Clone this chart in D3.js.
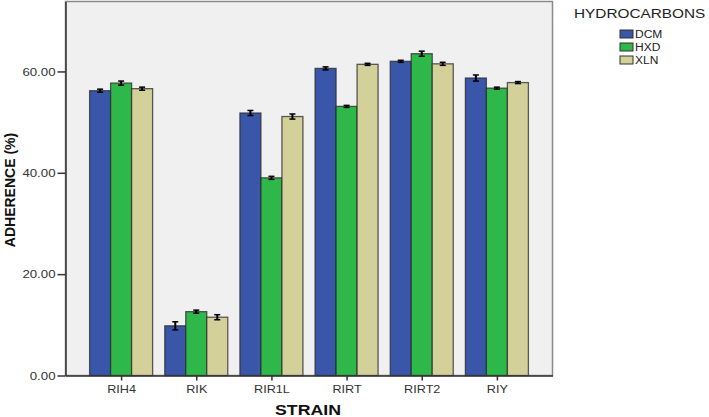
<!DOCTYPE html>
<html><head><meta charset="utf-8">
<script src="https://cdn.jsdelivr.net/npm/d3@7"></script>
<style>body{margin:0;background:#fff;} svg{display:block;font-family:"Liberation Sans",Arial,sans-serif;}</style>
</head><body><svg id="c" width="709" height="417"></svg>
<script>
const categories = ["RIH4","RIK","RIR1L","RIRT","RIRT2","RIY"];
const seriesNames = ["DCM","HXD","XLN"];
const dcm = [56.2, 9.8, 51.8, 60.6, 62.0, 58.7];
const hxd = [57.7, 12.6, 39.0, 53.1, 63.5, 56.7];
const xln = [56.6, 11.5, 51.1, 61.4, 61.5, 57.8];
const dcmErr = [0.3, 0.8, 0.5, 0.3, 0.2, 0.6];
const hxdErr = [0.4, 0.3, 0.3, 0.2, 0.5, 0.2];
const xlnErr = [0.3, 0.5, 0.5, 0.2, 0.3, 0.2];
const yTicks = [0, 20, 40, 60];
const colors = ["#3a56a8", "#2eb84a", "#d4d09a"];

const values = [dcm, hxd, xln];
const errs = [dcmErr, hxdErr, xlnErr];

const svg = d3.select("#c");
const L = 65.5, R = 552.5, T = 1.5, B = 375.5;

function stretch(sel, f) {
  sel.each(function () {
    const w = this.getComputedTextLength();
    d3.select(this).attr("textLength", w * f).attr("lengthAdjust", "spacingAndGlyphs");
  });
}

const y = d3.scaleLinear().domain([0, 73.8]).range([B, T]);
const x = d3.scalePoint().domain(categories).range([L, R]).padding(0.74);
const inner = d3.scaleBand().domain(seriesNames).range([-31.5, 31.5]);

svg.append("rect").attr("x", L).attr("y", T).attr("width", R - L).attr("height", B - T)
  .attr("fill", "#f0f0f0").attr("stroke", "#8a8a8a").attr("stroke-width", 1.5);

const data = [];
categories.forEach((c, i) => seriesNames.forEach((s, j) => data.push({c, s, j, v: values[j][i], e: errs[j][i]})));

const g = svg.append("g");
g.selectAll("rect.bar").data(data).join("rect").attr("class", "bar")
  .attr("x", d => x(d.c) + inner(d.s))
  .attr("width", inner.bandwidth())
  .attr("y", d => y(d.v))
  .attr("height", d => B - y(d.v))
  .attr("fill", d => colors[d.j])
  .attr("stroke", "#2a2a2a").attr("stroke-opacity", 0.75).attr("stroke-width", 1.3);

const eb = g.selectAll("g.eb").data(data).join("g").attr("class", "eb")
  .attr("transform", d => `translate(${x(d.c) + inner(d.s) + inner.bandwidth() / 2},0)`);
eb.append("line").attr("y1", d => y(d.v - d.e)).attr("y2", d => y(d.v + d.e)).attr("stroke", "#000").attr("stroke-width", 2);
eb.append("line").attr("x1", -3).attr("x2", 3).attr("y1", d => y(d.v + d.e)).attr("y2", d => y(d.v + d.e)).attr("stroke", "#000").attr("stroke-width", 1.5);
eb.append("line").attr("x1", -3).attr("x2", 3).attr("y1", d => y(d.v - d.e)).attr("y2", d => y(d.v - d.e)).attr("stroke", "#000").attr("stroke-width", 1.5);

// axes
const ya = svg.append("g").attr("transform", `translate(${L},0)`)
  .call(d3.axisLeft(y).tickValues(yTicks).tickFormat(d3.format(".2f")).tickSize(8).tickSizeOuter(0));
ya.select(".domain").attr("stroke", "#333").attr("stroke-width", 1.5);
ya.selectAll(".tick line").attr("stroke", "#333").attr("stroke-width", 1.5);
ya.selectAll(".tick text").attr("font-size", 11.5).attr("fill", "#333").attr("x", -10).attr("font-family", "Liberation Sans, Arial, sans-serif");
stretch(ya.selectAll(".tick text"), 1.15);

const xa = svg.append("g").attr("transform", `translate(0,${B})`)
  .call(d3.axisBottom(x).tickSize(5).tickSizeOuter(0));
xa.select(".domain").attr("stroke", "#333").attr("stroke-width", 1.5);
xa.selectAll(".tick line").attr("stroke", "#333").attr("stroke-width", 1.5);
xa.selectAll(".tick text").attr("font-size", 11.5).attr("fill", "#333").attr("y", 9).attr("font-family", "Liberation Sans, Arial, sans-serif");
stretch(xa.selectAll(".tick text"), 1.1);

svg.append("text").attr("transform", "translate(15,190) rotate(-90)").attr("text-anchor", "middle")
  .attr("font-size", 14).attr("font-weight", "bold").attr("fill", "#111").text("ADHERENCE (%)");
const st = svg.append("text").attr("x", 308).attr("y", 415).attr("text-anchor", "middle")
  .attr("font-size", 15).attr("font-weight", "bold").attr("fill", "#111").text("STRAIN");
stretch(st, 1.18);

// legend
const lg = svg.append("g");
const lt = lg.append("text").attr("x", 574).attr("y", 18).attr("font-size", 13).attr("fill", "#222").text("HYDROCARBONS");
stretch(lt, 1.18);
seriesNames.forEach((s, j) => {
  const yy = 30 + j * 13;
  lg.append("rect").attr("x", 620).attr("y", yy).attr("width", 13).attr("height", 8)
    .attr("fill", colors[j]).attr("stroke", "#333").attr("stroke-width", 1);
  const t = lg.append("text").attr("x", 635).attr("y", yy + 8).attr("font-size", 10).attr("fill", "#222").text(s);
  stretch(t, 1.2);
});
</script></body></html>
